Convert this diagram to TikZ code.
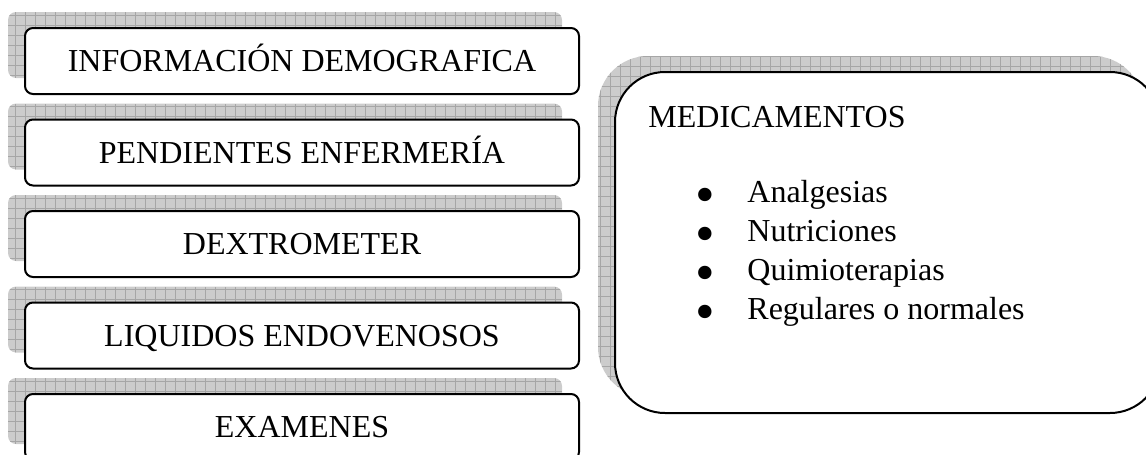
\documentclass[tikz,border=0pt]{standalone}
\usepackage{fontspec}
\setmainfont{Liberation Serif}
\begin{document}
\begin{tikzpicture}[
    x=0.5pt,
    y=-0.5pt,
    line join=round,
    tarjeta/.style={
        draw,
        line width=1pt,
        fill=white,
        rounded corners=4pt,
        minimum width=277pt,
        minimum height=33pt,
        inner sep=0pt,
        text height=10.6pt,
        text depth=0pt,
        font=\fontsize{16}{19}\selectfont
    },
    sombra/.style={
        fill=gray!40,
        rounded corners=4pt,
        minimum width=277pt,
        minimum height=33pt,
        inner sep=0pt,
        path picture={
            \draw[gray!70, line width=0.4pt]
                (path picture bounding box.south west) grid[step=5pt]
                (path picture bounding box.north east);
        }
    },
    texto/.style={
        anchor=base west,
        inner sep=0pt,
        font=\fontsize{16}{19}\selectfont
    },
    vineta/.style={
        anchor=base,
        inner sep=0pt,
        text height=8pt,
        text depth=0pt,
        font=\fontsize{28}{28}\selectfont
    }
]

% -------------------------------------------------
% Marco de la imagen
% -------------------------------------------------

\useasboundingbox (0,0) rectangle (1146,455);
\clip (0,0) rectangle (1146,455);

\def\bx{302}    % centro horizontal de las tarjetas
\def\sx{17}     % desplazamiento horizontal de la sombra
\def\sy{16}     % desplazamiento vertical de la sombra
\def\vb{11}     % bajada de las vinetas respecto a la linea base

% -------------------------------------------------
% Tarjetas de la izquierda
% -------------------------------------------------

\node[sombra] (infoS) at (\bx-\sx, 61-\sy) {};
\node[tarjeta] (info) at (\bx, 61) {INFORMACIÓN DEMOGRAFICA};

\node[sombra] (pendS) at (\bx-\sx, 152.5-\sy) {};
\node[tarjeta] (pend) at (\bx, 152.5) {PENDIENTES ENFERMERÍA};

\node[sombra] (dextS) at (\bx-\sx, 244-\sy) {};
\node[tarjeta] (dext) at (\bx, 244) {DEXTROMETER};

\node[sombra] (liqS) at (\bx-\sx, 335.5-\sy) {};
\node[tarjeta] (liq) at (\bx, 335.5) {LIQUIDOS ENDOVENOSOS};

% La ultima tarjeta queda cortada por el borde inferior
\node[sombra] (examS) at (\bx-\sx, 427-\sy) {};
\node[tarjeta] (exam) at (\bx, 427) {EXAMENES};

% -------------------------------------------------
% Tarjeta grande de medicamentos
% -------------------------------------------------

\node[sombra, rounded corners=25pt,
      minimum width=272.5pt, minimum height=170.5pt]
    (medS) at (887.5-\sx, 242.5-\sy) {};
\node[tarjeta, rounded corners=25pt,
      minimum width=272.5pt, minimum height=170.5pt]
    (med) at (887.5, 242.5) {};

\node[texto] (medTit) at (648, 127) {MEDICAMENTOS};

% Lista con vinetas
\node[vineta] (v1) at (705, 202+\vb) {•};
\node[texto]  (m1) at (747, 202) {Analgesias};

\node[vineta] (v2) at (705, 241+\vb) {•};
\node[texto]  (m2) at (747, 241) {Nutriciones};

\node[vineta] (v3) at (705, 280+\vb) {•};
\node[texto]  (m3) at (747, 280) {Quimioterapias};

\node[vineta] (v4) at (705, 319+\vb) {•};
\node[texto]  (m4) at (747, 319) {Regulares o normales};

\end{tikzpicture}
\end{document}
